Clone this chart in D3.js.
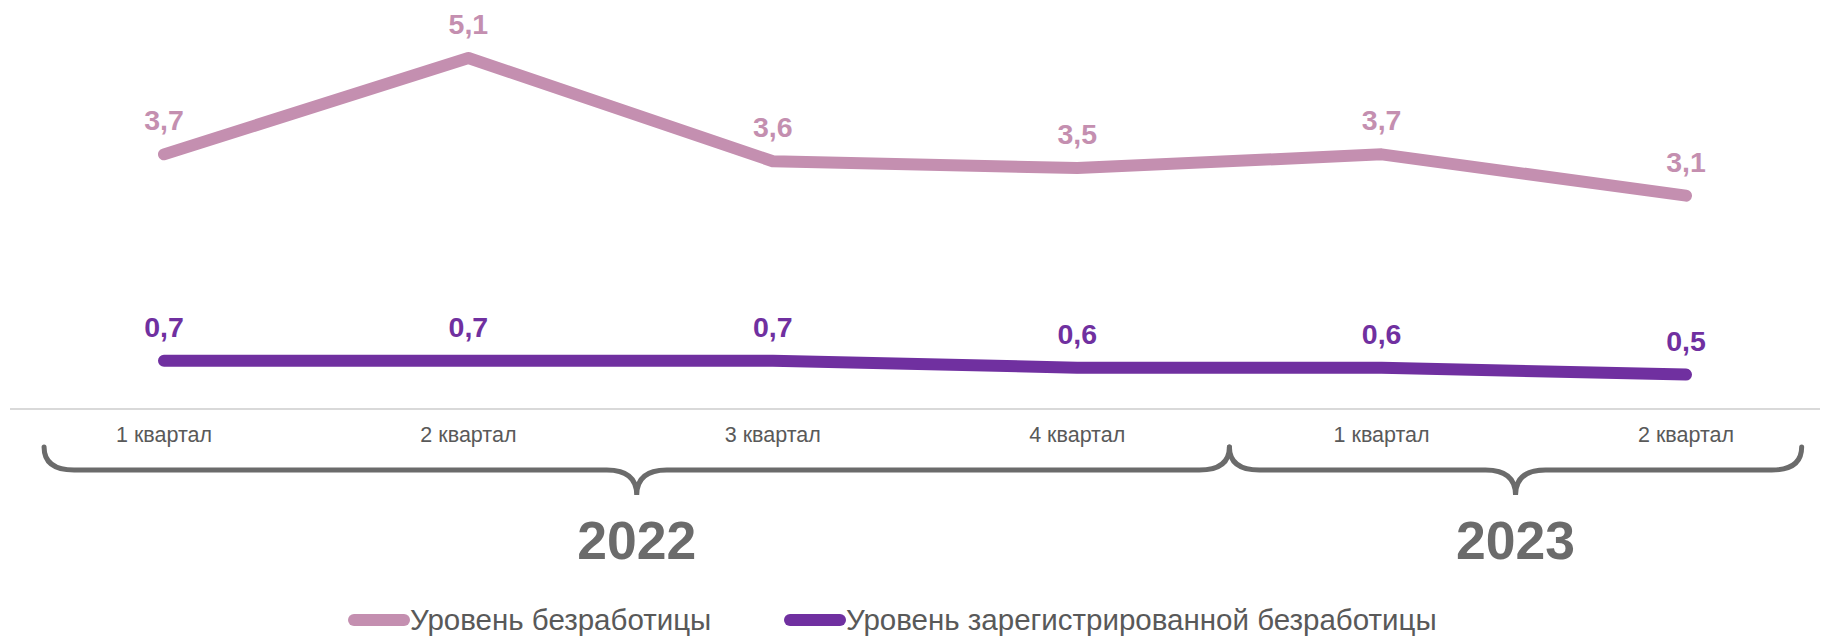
<!DOCTYPE html>
<html><head><meta charset="utf-8">
<script src="https://cdn.jsdelivr.net/npm/d3@7"></script>
<style>html,body{margin:0;padding:0;background:#fff;}svg{display:block;}</style>
</head><body>
<svg id="chart" width="1823" height="636"></svg>
<script>
const categories = ["1 квартал","2 квартал","3 квартал","4 квартал","1 квартал","2 квартал"];
const unemployment = [3.7, 5.1, 3.6, 3.5, 3.7, 3.1];
const registered = [0.7, 0.7, 0.7, 0.6, 0.6, 0.5];
const years = [{label:"2022", from:0, to:3}, {label:"2023", from:4, to:5}];
const seriesNames = ["Уровень безработицы", "Уровень зарегистрированной безработицы"];
const colors = ["#c48fb0", "#7030a0"];

const svg = d3.select("#chart");
const font = "'Liberation Sans', Arial, sans-serif";
const idx = d3.range(categories.length);
const x = d3.scalePoint().domain(idx).range([164, 1686]);
const y = d3.scaleLinear().domain([0, 5.1]).range([409, 58]);
const step = x.step();

// axis line
svg.append("line").attr("x1", 10).attr("x2", 1820).attr("y1", y(0)).attr("y2", y(0))
  .attr("stroke", "#d9d9d9").attr("stroke-width", 2);

// category labels
svg.selectAll("text.cat").data(idx).join("text").attr("class","cat")
  .attr("x", d => x(d)).attr("y", 442).attr("text-anchor","middle")
  .attr("font-family", font).attr("font-size", 21.5).attr("fill", "#595959")
  .text(d => categories[d]);

// series lines
const fmt = v => d3.format(".1f")(v).replace(".", ",");
[unemployment, registered].forEach((vals, si) => {
  const line = d3.line().x((d,i) => x(i)).y(d => y(d));
  svg.append("path").attr("d", line(vals)).attr("fill","none")
    .attr("stroke", colors[si]).attr("stroke-width", 12)
    .attr("stroke-linecap","round").attr("stroke-linejoin","round");
  svg.selectAll("text.lbl"+si).data(vals).join("text").attr("class","lbl"+si)
    .attr("x", (d,i) => x(i)).attr("y", d => y(d) - 24).attr("text-anchor","middle")
    .attr("font-family", font).attr("font-weight","bold").attr("font-size", 28.5)
    .attr("fill", colors[si]).text(d => fmt(d));
});

// braces
const topY = 447, midY = 470, tipY = 495, r = 30;
const nYears = years.length;
years.forEach((yr, k) => {
  const x0 = x(yr.from) - step * (k === 0 ? 0.394 : 0.5);
  const x1 = x(yr.to) + step * (k === nYears - 1 ? 0.38 : 0.5);
  const xm = (x0 + x1) / 2;
  const p = d3.path();
  p.moveTo(x0, topY);
  p.quadraticCurveTo(x0, midY, x0 + r, midY);
  p.lineTo(xm - r, midY);
  p.quadraticCurveTo(xm, midY, xm, tipY);
  p.quadraticCurveTo(xm, midY, xm + r, midY);
  p.lineTo(x1 - r, midY);
  p.quadraticCurveTo(x1, midY, x1, topY);
  svg.append("path").attr("d", p.toString()).attr("fill","none")
    .attr("stroke","#6b6b6b").attr("stroke-width",5).attr("stroke-linecap","round");
  svg.append("text").attr("x", xm).attr("y", 559).attr("text-anchor","middle")
    .attr("font-family", font).attr("font-weight","bold").attr("font-size", 53.5)
    .attr("fill","#6b6b6b").text(yr.label);
});

// legend
const legendX = [348, 784];
seriesNames.forEach((name, i) => {
  const g = svg.append("g").attr("transform", `translate(${legendX[i]},620)`);
  g.append("line").attr("x1", 6).attr("x2", 56).attr("y1", 0).attr("y2", 0)
    .attr("stroke", colors[i]).attr("stroke-width", 12).attr("stroke-linecap","round");
  g.append("text").attr("x", 62).attr("y", 0).attr("dy","0.35em")
    .attr("font-family", font).attr("font-size", 29.5).attr("fill","#595959").text(name);
});
</script>
</body></html>
